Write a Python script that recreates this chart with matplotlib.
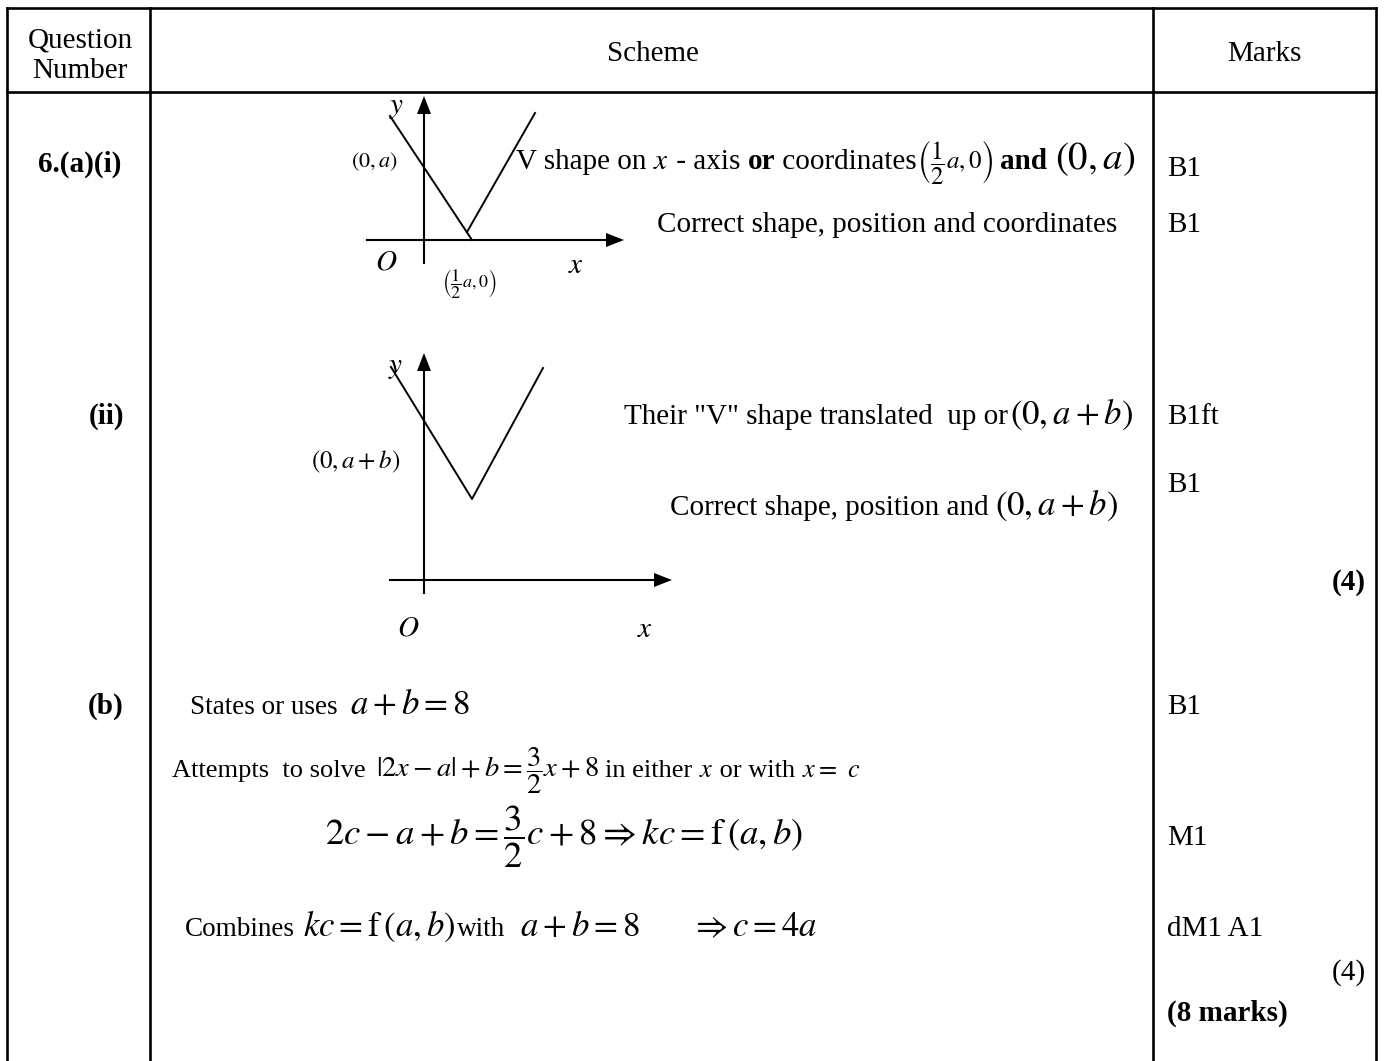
import matplotlib
matplotlib.use("Agg")
import matplotlib.pyplot as plt

plt.rcParams['font.family'] = ['Liberation Serif', 'DejaVu Serif']
plt.rcParams['mathtext.fontset'] = 'stix'

# table grid (pixels)
col_edges = [7, 150, 1153, 1376]
table_top = 8
header_bottom = 92
header_labels = ['Question\nNumber', 'Scheme', 'Marks']

# question parts (label, baseline y, centre x)
parts = [('6.(a)(i)', 172, 80), ('(ii)', 424, 106), ('(b)', 714, 106)]

# marks column: (text, baseline y, bold)
marks = [('B1', 176, False), ('B1', 232, False), ('B1ft', 424, False), ('B1', 492, False),
         ('B1', 714, False), ('M1', 845, False), ('dM1 A1', 936, False), ('(8 marks)', 1021, True)]
subtotals = [('(4)', 590, True), ('(4)', 980, False)]

# sketch 1: y = |2x - a|
sk1_yaxis = (424, 263, 96)
sk1_xaxis = (367, 240, 624)
sk1_left = ([390, 472], [116, 240])
sk1_right = ([467, 535], [232, 113])

# sketch 2: y = |2x - a| + b
sk2_yaxis = (424, 593, 353)
sk2_xaxis = (390, 580, 672)
sk2_v = ([391, 472, 543], [367, 499, 368])

FS = 21     # body text, part (a)
FSB = 19.5  # body text, part (b)
MS = 25     # equations

fig = plt.figure(figsize=(13.84, 10.61), dpi=100)
ax = fig.add_axes([0, 0, 1, 1])
ax.set_xlim(0, 1384)
ax.set_ylim(1061, 0)
ax.axis('off')
renderer = fig.canvas.get_renderer()


def put_line(x, y, pieces, ha='left'):
    # pieces: (string, fontsize, bold, gap after)
    texts = []
    cur = x
    for s, size, bold, gap in pieces:
        t = ax.text(cur, y, s, ha='left', va='baseline', fontsize=size,
                    fontweight='bold' if bold else 'normal')
        cur += t.get_window_extent(renderer).width + gap
        texts.append(t)
    if ha == 'right':
        shift = x - (cur - pieces[-1][3])
        for t in texts:
            px, py = t.get_position()
            t.set_position((px + shift, py))


lw_tab = 1.9
ax.plot([col_edges[0], col_edges[-1]], [table_top, table_top], color='black', lw=lw_tab)
ax.plot([col_edges[0], col_edges[-1]], [header_bottom, header_bottom], color='black', lw=lw_tab)
for cx in col_edges:
    ax.plot([cx, cx], [table_top, 1061], color='black', lw=lw_tab)

q_lines = header_labels[0].split('\n')
ax.text(80, 47, q_lines[0], ha='center', va='baseline', fontsize=FS)
ax.text(80, 78, q_lines[1], ha='center', va='baseline', fontsize=FS)
ax.text(653, 61, header_labels[1], ha='center', va='baseline', fontsize=FS)
ax.text(1264, 61, header_labels[2], ha='center', va='baseline', fontsize=FS)

for lab, y, x in parts:
    ax.text(x, y, lab, ha='center', va='baseline', fontsize=FS, fontweight='bold')

for lab, y, bold in marks:
    ax.text(1167, y, lab, ha='left', va='baseline', fontsize=FS,
            fontweight='bold' if bold else 'normal')
for lab, y, bold in subtotals:
    ax.text(1366, y, lab, ha='right', va='baseline', fontsize=FS,
            fontweight='bold' if bold else 'normal')


def axes_arrows(yax, xax):
    x0, yb, yt = yax
    ax.plot([x0, x0], [yb, yt + 16], color='black', lw=1.5)
    ax.fill([x0 - 7, x0 + 7, x0], [yt + 18, yt + 18, yt], color='black', lw=0)
    xl, y0, xr = xax
    ax.plot([xl, xr - 16], [y0, y0], color='black', lw=1.5)
    ax.fill([xr - 18, xr - 18, xr], [y0 - 7, y0 + 7, y0], color='black', lw=0)


# sketch 1
axes_arrows(sk1_yaxis, sk1_xaxis)
ax.plot(*sk1_left, color='black', lw=1.4)
ax.plot(*sk1_right, color='black', lw=1.4)
ax.text(397, 108, '$y$', ha='center', va='center', fontsize=21)
ax.text(374, 162, '$(0,a)$', ha='center', va='center', fontsize=16)
ax.text(386, 263, '$O$', ha='center', va='center', fontsize=21)
ax.text(576, 266, '$x$', ha='center', va='center', fontsize=21)
ax.text(469, 284, r'$\left(\dfrac{1}{2}a,0\right)$', ha='center', va='center', fontsize=13)

# sketch 2
axes_arrows(sk2_yaxis, sk2_xaxis)
ax.plot(*sk2_v, color='black', lw=1.4)
ax.text(396, 368, '$y$', ha='center', va='center', fontsize=21)
ax.text(356, 462, '$(0,a+b)$', ha='center', va='center', fontsize=18)
ax.text(408, 628, '$O$', ha='center', va='center', fontsize=21)
ax.text(645, 630, '$x$', ha='center', va='center', fontsize=21)

# scheme text, part (a)(i)
put_line(1135, 169, [('V shape on ', FS, False, 0), ('$x$', FS, False, 0), (' - axis ', FS, False, 0),
                     ('or', FS, True, 0), (' coordinates', FS, False, 0),
                     (r'$\left(\dfrac{1}{2}a,0\right)$', 18, False, 6), ('and', FS, True, 8),
                     ('$(0,a)$', 28, False, 0)], ha='right')
put_line(1117, 232, [('Correct shape, position and coordinates', FS, False, 0)], ha='right')

# part (ii)
put_line(1133, 424, [('Their "V" shape translated  up or', FS, False, 2), ('$(0,a+b)$', MS, False, 0)],
         ha='right')
put_line(1118, 515, [('Correct shape, position and', FS, False, 6), ('$(0,a+b)$', MS, False, 0)],
         ha='right')

# part (b)
put_line(190, 714, [('States or uses', FSB, False, 12), ('$a+b=8$', MS, False, 0)])
put_line(172, 777, [('Attempts  to solve', 19, False, 10),
                    (r'$\left|2x-a\right|+b=\dfrac{3}{2}x+8$', 20.5, False, 6),
                    ('in either ', 19, False, 0), ('$x$', 19, False, 0), (' or with ', 19, False, 0),
                    ('$x=$', 19, False, 10), ('$c$', 19, False, 0)])
put_line(325, 845, [(r'$2c-a+b=\dfrac{3}{2}c+8\Rightarrow kc=\mathrm{f}\,(a,b)$', 26.5, False, 0)])
put_line(185, 936, [('Combines', FSB, False, 8), (r'$kc=\mathrm{f}\,(a,b)$', MS, False, 2),
                    ('with', FSB, False, 14), ('$a+b=8$', MS, False, 50), (r'$\Rightarrow c=4a$', MS, False, 0)])

fig.savefig('out.png', dpi=100)
